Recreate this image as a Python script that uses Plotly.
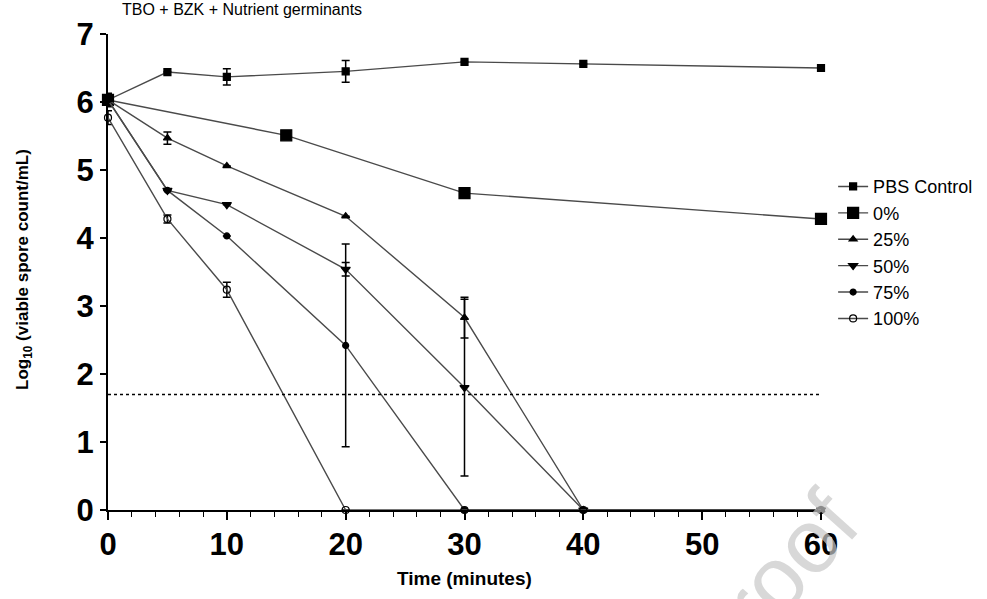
import plotly.graph_objects as go

# Time points (minutes) and log10 viable spore counts for each treatment
times_pbs = [0, 5, 10, 20, 30, 40, 60]
pbs_control = [6.03, 6.44, 6.37, 6.45, 6.59, 6.56, 6.50]
pbs_err = [0.10, 0, 0.12, 0.16, 0, 0, 0]

times_0 = [0, 15, 30, 60]
conc_0 = [6.03, 5.51, 4.66, 4.28]
conc_0_err = [0.08, 0, 0, 0]

times_dose = [0, 5, 10, 20, 30, 40, 60]
conc_25 = [6.03, 5.47, 5.06, 4.32, 2.83, 0, 0]
conc_25_err = [0, 0.09, 0, 0, 0.30, 0, 0]
conc_50 = [6.03, 4.70, 4.49, 3.54, 1.80, 0, 0]
conc_50_err = [0, 0, 0, 0.10, 1.30, 0, 0]
conc_75 = [6.03, 4.70, 4.03, 2.42, 0, 0, 0]
conc_75_err = [0, 0, 0, 1.49, 0, 0, 0]
conc_100 = [5.77, 4.28, 3.24, 0, 0, 0, 0]
conc_100_err = [0.10, 0.06, 0.11, 0, 0, 0, 0]

detection_limit = 1.7
x_ticks = [0, 10, 20, 30, 40, 50, 60]
y_ticks = [0, 1, 2, 3, 4, 5, 6, 7]

series = [
    ("PBS Control", times_pbs, pbs_control, pbs_err, "square", 7),
    ("0%", times_0, conc_0, conc_0_err, "square", 11),
    ("25%", times_dose, conc_25, conc_25_err, "triangle-up", 7),
    ("50%", times_dose, conc_50, conc_50_err, "triangle-down", 8),
    ("75%", times_dose, conc_75, conc_75_err, "circle", 6),
    ("100%", times_dose, conc_100, conc_100_err, "circle-open", 7),
]

fig = go.Figure()
for name, t, y, err, sym, size in series:
    fig.add_trace(go.Scatter(
        x=t, y=y, name=name, mode="lines+markers",
        legendgroup=name,
        line=dict(color="#4a4a4a", width=1.4),
        marker=dict(symbol=sym, size=size, color="black",
                    line=dict(color="black", width=1.2)),
        error_y=dict(type="data", array=err, visible=True,
                     color="black", thickness=1.5, width=4),
        cliponaxis=False,
    ))

# limit of detection
fig.add_shape(type="line", xref="x", yref="y", x0=0, x1=60,
              y0=detection_limit, y1=detection_limit,
              line=dict(color="black", width=1.5, dash="dot"))

bold = dict(family="Liberation Sans, Arial", size=31, color="black", weight="bold")

fig.update_layout(
    width=987, height=599,
    margin=dict(l=108, r=166, t=34, b=89, autoexpand=False),
    plot_bgcolor="white", paper_bgcolor="white",
    font=dict(family="Liberation Sans, Arial", color="black"),
    xaxis=dict(range=[0, 60], tickvals=x_ticks, ticks="outside", ticklen=8,
               tickwidth=1.5, tickcolor="black", showline=True, linecolor="black",
               linewidth=2, showgrid=False, zeroline=False, tickfont=bold,
               ticklabelstandoff=-2,
               minor=dict(dtick=2, ticks="outside", ticklen=5, tickwidth=1.3,
                          tickcolor="black", showgrid=False)),
    yaxis=dict(range=[0, 7], tickvals=y_ticks, ticks="outside", ticklen=6,
               tickwidth=1.5, tickcolor="black", showline=True, linecolor="black",
               linewidth=2, showgrid=False, zeroline=False, tickfont=bold),
    legend=dict(x=1.017, y=0.718, xanchor="left", yanchor="top",
                font=dict(size=18, color="black"), tracegroupgap=0,
                itemwidth=30, bgcolor="rgba(0,0,0,0)"),
    showlegend=True,
)

fig.add_annotation(text="TBO + BZK + Nutrient germinants", xref="paper", yref="paper",
                   x=(120 - 108) / 713, y=1.03, xanchor="left", yanchor="bottom",
                   showarrow=False, font=dict(size=16, color="black"))
fig.add_annotation(text="Log<sub>10</sub> (viable spore count/mL)", xref="paper", yref="paper",
                   x=(24 - 108) / 713, y=(510 - 270) / 476, textangle=-90,
                   xanchor="center", yanchor="middle", showarrow=False,
                   font=dict(size=17, color="black", weight="bold"))
fig.add_annotation(text="Time (minutes)", xref="paper", yref="paper",
                   x=0.5, y=-(578 - 510) / 476, xanchor="center", yanchor="middle",
                   showarrow=False, font=dict(size=19, color="black", weight="bold"))

# faint diagonal watermark in the lower right corner
fig.add_annotation(text="proof", xref="paper", yref="paper",
                   x=(772 - 108) / 713, y=-(582 - 510) / 476, textangle=-48,
                   xanchor="center", yanchor="middle", showarrow=False,
                   font=dict(size=90, color="rgba(200,200,200,0.7)"))

fig.write_html("out.html")
